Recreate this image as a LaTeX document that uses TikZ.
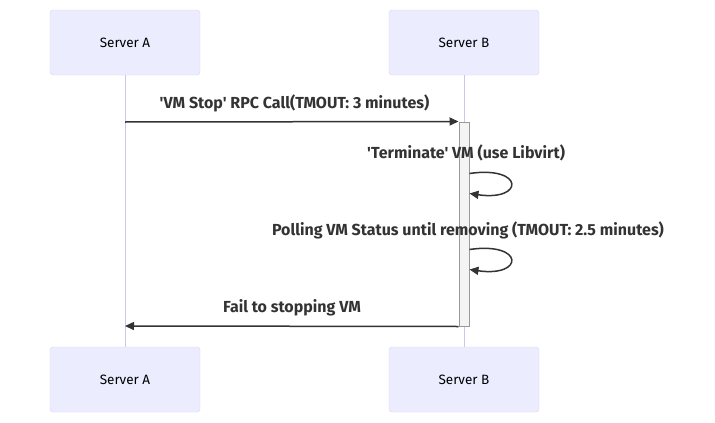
\documentclass[tikz,border=0pt]{standalone}
\usepackage{fontspec}
\setmainfont{Fira Sans}[Ligatures=TeXOff]
\usetikzlibrary{arrows.meta}
\definecolor{actfill}{HTML}{ECECFF}
\definecolor{actline}{HTML}{DCD2F4}
\definecolor{lifeline}{HTML}{D0C4EE}
\definecolor{msgcol}{HTML}{333333}
\definecolor{barfill}{HTML}{F4F4F4}
\definecolor{barline}{HTML}{999999}
\begin{document}
\begin{tikzpicture}[x=1pt,y=-1pt,
  actor/.style={draw=actline,fill=actfill,rounded corners=3pt,minimum width=150pt,minimum height=65pt,inner sep=0pt,font=\fontsize{13.5}{15}\selectfont,text=black},
  life/.style={draw=lifeline,line width=1pt},
  msg/.style={draw=msgcol,line width=1.5pt,-{Triangle[length=9pt,width=8pt]}},
  lbl/.style={font=\fontsize{16}{18}\selectfont\bfseries,text=msgcol,inner sep=0pt}]
\useasboundingbox (0,0) rectangle (715,423);
\node[actor] (at) at (125,42.5) {Server A};
\node[actor] (bt) at (464,42.5) {Server B};
\node[actor] (ab) at (125,379.5) {Server A};
\node[actor] (bb) at (464,379.5) {Server B};
\draw[life] (at.south) -- (ab.north);
\draw[life] (bt.south) -- (bb.north);
\node[draw=barline,fill=barfill,minimum width=10pt,minimum height=204pt,inner sep=0pt,line width=1pt] (bar) at (464,224) {};
\coordinate (m1s) at (125,122);
\draw[msg] (m1s) -- (bar.north west);
\node[lbl] (l1) at (294.5,103) {'VM Stop' RPC Call(TMOUT: 3 minutes)};
\coordinate (s1) at ([yshift=-52pt]bar.north east);
\coordinate (e1) at ([yshift=-72pt]bar.north east);
\draw[msg] (s1) .. controls ++(55,-8) and ([shift={(55,8)}]e1) .. (e1);
\node[lbl] (l2) at (466,153) {'Terminate' VM (use Libvirt)};
\coordinate (s2) at ([yshift=-128pt]bar.north east);
\coordinate (e2) at ([yshift=-148pt]bar.north east);
\draw[msg] (s2) .. controls ++(55,-8) and ([shift={(55,8)}]e2) .. (e2);
\node[lbl] (l3) at (468,230) {Polling VM Status until removing (TMOUT: 2.5 minutes)};
\coordinate (m3e) at (125,326);
\draw[msg] (bar.south west) -- (m3e);
\node[lbl] (l4) at (292,308) {Fail to stopping VM};
\end{tikzpicture}
\end{document}
